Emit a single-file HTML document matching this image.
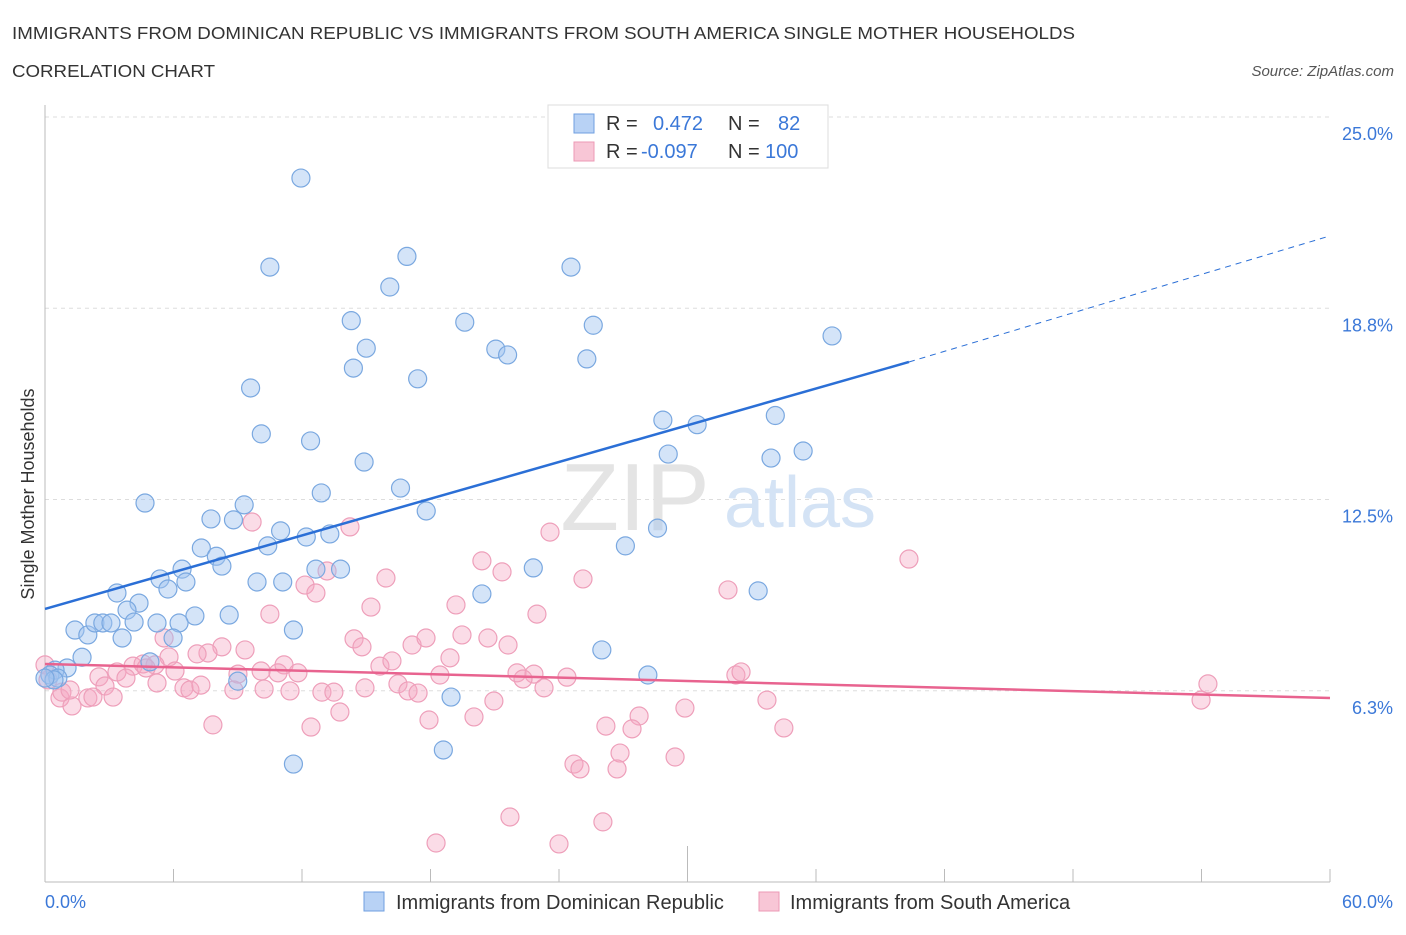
<!DOCTYPE html>
<html><head><meta charset="utf-8">
<style>
body{margin:0;background:#fff;font-family:"Liberation Sans",sans-serif;}
svg text{font-family:"Liberation Sans",sans-serif;}
</style></head>
<body>
<svg id="chart" width="1406" height="930" viewBox="0 0 1406 930">
<text x="12" y="39" font-size="17.5" fill="#333" textLength="1063" lengthAdjust="spacingAndGlyphs">IMMIGRANTS FROM DOMINICAN REPUBLIC VS IMMIGRANTS FROM SOUTH AMERICA SINGLE MOTHER HOUSEHOLDS</text>
<text x="12" y="77" font-size="17.5" fill="#333" textLength="203" lengthAdjust="spacingAndGlyphs">CORRELATION CHART</text>
<text x="1394" y="76" font-size="15" fill="#555" font-style="italic" text-anchor="end">Source: ZipAtlas.com</text>
<g id="grid"></g>
<text x="635" y="530" font-size="96" fill="#e4e4e4" font-family="Liberation Serif" text-anchor="middle">ZIP</text>
<text x="800" y="527" font-size="72" fill="#d4e3f5" text-anchor="middle">atlas</text>
<g id="pts"></g>
<g id="lines"></g>
<text transform="translate(34,494) rotate(-90)" font-size="18" fill="#333" text-anchor="middle">Single Mother Households</text>
<text x="45" y="908" font-size="18" fill="#3b78d8">0.0%</text>
<text x="1393" y="908" font-size="18" fill="#3b78d8" text-anchor="end">60.0%</text>
<g>
<rect x="548" y="105" width="280" height="63" fill="#fff" stroke="#ddd"/>
<rect x="574" y="114" width="20" height="19" fill="#b8d2f5" stroke="#6f9fe0"/>
<rect x="574" y="142" width="20" height="19" fill="#f8c6d6" stroke="#ec99b5"/>
<text x="606" y="130" font-size="20" fill="#333">R = <tspan x="653" fill="#3b78d8">0.472</tspan><tspan x="728" fill="#333">N =</tspan><tspan x="778" fill="#3b78d8">82</tspan></text>
<text x="606" y="158" font-size="20" fill="#333">R = <tspan x="641" fill="#3b78d8">-0.097</tspan><tspan x="728" fill="#333">N =</tspan><tspan x="765" fill="#3b78d8">100</tspan></text>
</g>
<g>
<rect x="364" y="892" width="20" height="19" fill="#b8d2f5" stroke="#6f9fe0"/>
<text x="396" y="909" font-size="20" fill="#333">Immigrants from Dominican Republic</text>
<rect x="759" y="892" width="20" height="19" fill="#f8c6d6" stroke="#ec99b5"/>
<text x="790" y="909" font-size="20" fill="#333">Immigrants from South America</text>
</g>
</svg>
<script>
const blueX=[11.95,10.5,16.9,24.56,16.1,14.3,19.6,25.6,15.0,21.05,21.6,25.3,14.4,17.4,9.6,36.75,28.85,30.45,34.1,10.1,12.4,14.9,29.1,33.9,35.4,12.9,16.6,4.67,9.3,17.8,7.75,8.8,11.0,12.2,13.3,28.6,10.4,7.3,8.0,27.1,8.26,6.4,5.37,6.58,5.74,3.36,9.9,11.1,12.65,13.8,22.8,4.39,3.83,7.0,8.6,20.4,33.3,1.4,2.0,2.33,2.7,3.08,4.16,5.23,6.26,3.6,5.98,11.6,26.0,1.73,4.9,1.03,0.47,0.23,0.6,9.0,28.15,18.96,18.6,11.6,0.42,0];
const blueY=[23.56,20.65,21.0,20.65,20.0,18.9,18.85,18.75,18.0,17.97,17.78,17.65,17.35,17.0,16.7,18.4,15.65,15.5,15.8,15.2,14.97,14.28,14.54,14.41,14.64,13.27,13.43,12.94,12.88,12.68,12.42,12.39,12.03,11.83,11.93,12.12,11.54,11.47,11.2,11.54,10.88,10.78,10.46,10.36,10.13,10.0,10.36,10.36,10.78,10.78,10.82,9.67,9.44,9.25,9.28,9.97,10.07,8.79,8.63,9.02,9.02,9.02,9.05,9.02,9.02,8.53,8.53,8.79,8.14,7.9,7.75,7.55,7.48,7.32,7.22,7.12,7.32,6.6,4.87,4.41,7.16,7.22];
const pinkX=[9.67,14.24,23.58,20.4,40.34,15.92,25.12,21.34,12.14,13.17,12.65,31.89,10.5,15.22,19.19,22.97,5.56,8.26,9.34,14.43,14.8,17.14,17.79,19.47,20.68,21.62,7.61,5.79,18.91,4.11,4.58,5.14,3.36,2.52,3.78,4.72,6.07,7.1,11.16,9.01,10.09,10.88,11.81,15.64,16.2,18.44,22.04,22.83,22.32,24.37,32.26,32.5,2.8,5.23,6.49,6.77,7.28,8.82,10.23,11.44,12.93,13.49,14.94,16.48,16.95,17.42,23.3,54.3,53.98,33.71,29.88,20.96,27.74,13.77,20.03,17.93,7.84,12.42,26.19,27.41,34.5,26.85,29.42,24.7,24.98,26.71,21.71,26.05,18.26,24.0,0.7,1.26,2.0,0.79,2.24,3.18,0,0.14,1.17];
const pinkY=[12.32,12.16,11.99,11.05,11.11,10.49,10.46,10.69,10.26,10.72,10.0,10.1,9.31,9.54,9.61,9.31,8.53,8.24,8.14,8.5,8.24,8.3,8.53,8.63,8.53,8.3,8.04,7.91,7.88,7.61,7.68,7.65,7.42,7.26,7.22,7.55,7.45,8.01,7.65,7.35,7.45,7.39,7.39,7.61,7.78,7.32,7.39,7.35,7.19,7.25,7.32,7.42,6.96,7.06,6.9,6.83,6.99,6.83,6.86,6.8,6.76,6.76,6.9,7.03,6.8,6.73,6.9,7.03,6.5,6.5,6.24,6.47,5.98,6.11,5.95,5.85,5.69,5.62,5.65,5.56,5.59,4.77,4.64,4.41,4.25,4.25,2.68,2.52,1.83,1.8,6.57,6.31,6.57,6.76,6.6,6.6,7.65,7.16,6.83];
const yTicks=[25,18.75,12.5,6.25];
const yTickLabels=["25.0%","18.8%","12.5%","6.3%"];
const xTicks=[0,6,12,18,24,30,36,42,48,54,60];
const blueTrend=[9.48,17.55,21.67];
const blueTrendX=[0,40.34,60];
const pinkTrend=[7.68,6.57];
const NS='http://www.w3.org/2000/svg';
function xs(v){return 45+v*1285/60;}
function ys(v){return 134+(25-v)*30.6;}
function mk(tag,attrs,parent){const e=document.createElementNS(NS,tag);for(const k in attrs)e.setAttribute(k,attrs[k]);parent.appendChild(e);return e;}
const grid=document.getElementById('grid');
yTicks.forEach((t,i)=>{
  const l=mk('line',{x1:45,x2:1330,y1:ys(t)-17,y2:ys(t)-17,stroke:'#ddd','stroke-dasharray':'4,4'},grid);
  
  
  const tx=mk('text',{x:1393,y:ys(t)+6,'font-size':18,fill:'#3b78d8','text-anchor':'end'},grid);
  tx.textContent=yTickLabels[i];
  
  
});
const ax=mk('line',{x1:45,x2:1330,y1:882,y2:882,stroke:'#bbb'},grid);


const ay=mk('line',{x1:45,x2:45,y1:105,y2:882,stroke:'#bbb'},grid);


xTicks.forEach(t=>{
  const tk=mk('line',{x1:xs(t),x2:xs(t),y1:t===30?846:869,y2:882,stroke:'#bbb'},grid);
  
  
});
const pts=document.getElementById('pts');
pinkX.forEach((x,i)=>{
  const c=mk('circle',{cx:xs(x),cy:ys(pinkY[i]),r:9,fill:'rgba(244,168,194,0.4)',stroke:'#ee9fba','stroke-width':1.2},pts);
  
  
});
blueX.forEach((x,i)=>{
  const c=mk('circle',{cx:xs(x),cy:ys(blueY[i]),r:9,fill:'rgba(160,196,240,0.45)',stroke:'#7aa8e0','stroke-width':1.2},pts);
  
  
});
const lines=document.getElementById('lines');
const b1=mk('line',{x1:xs(blueTrendX[0]),y1:ys(blueTrend[0]),x2:xs(blueTrendX[1]),y2:ys(blueTrend[1]),stroke:'#2b6fd6','stroke-width':2.5},lines);


const b2=mk('line',{x1:xs(blueTrendX[1]),y1:ys(blueTrend[1]),x2:xs(blueTrendX[2]),y2:ys(blueTrend[2]),stroke:'#2b6fd6','stroke-width':1,'stroke-dasharray':'6,5'},lines);


const p1=mk('line',{x1:xs(0),y1:ys(pinkTrend[0]),x2:xs(60),y2:ys(pinkTrend[1]),stroke:'#e8638f','stroke-width':2.5},lines);


</script>
</body></html>
